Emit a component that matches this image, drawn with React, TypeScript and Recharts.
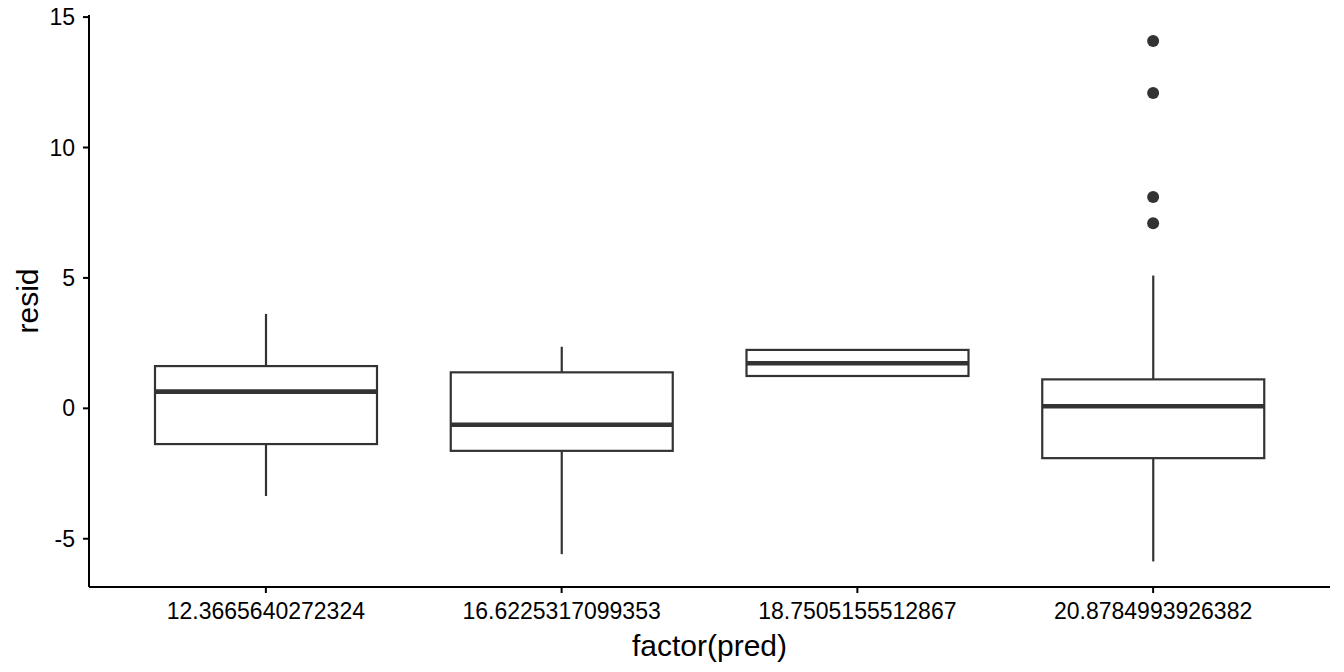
import { ComposedChart, Bar, Line, XAxis, YAxis } from 'recharts'

document.body.style.margin = '0'

const categories = ['12.3665640272324', '16.6225317099353', '18.7505155512867', '20.8784993926382']
const whiskerLow = [-3.36, -5.59, 1.24, -5.87]
const q1 = [-1.37, -1.63, 1.24, -1.91]
const median = [0.64, -0.63, 1.73, 0.08]
const q3 = [1.62, 1.38, 2.24, 1.11]
const whiskerHigh = [3.62, 2.36, 2.24, 5.09]
const outliers: number[][] = [[], [], [], [14.08, 12.09, 8.1, 7.1]]
const yTicks = [-5, 0, 5, 10, 15]

const OUTLIER_KEYS = ['o0', 'o1', 'o2', 'o3']

const data = categories.map((cat, i) => {
  const row: Record<string, any> = {
    cat,
    range: [whiskerLow[i], whiskerHigh[i]],
    low: whiskerLow[i],
    q1: q1[i],
    median: median[i],
    q3: q3[i],
    high: whiskerHigh[i],
  }
  OUTLIER_KEYS.forEach((k, j) => {
    row[k] = outliers[i][j] ?? null
  })
  return row
})

const INK = '#333333'
const FONT = '"Liberation Sans", Arial, Helvetica, sans-serif'
const TICK_STYLE = { fill: '#000', fontSize: 23, fontFamily: FONT }

// box drawn from the whisker range bar: map values through the bar's pixel span
function BoxShape(props: any) {
  const { x, y, width, height, payload } = props
  const lo = payload.low
  const hi = payload.high
  const top = Math.min(y, y + height)
  const h = Math.abs(height)
  const toPx = (v: number) => (hi === lo ? top : top + ((hi - v) / (hi - lo)) * h)
  const cx = x + width / 2
  const yQ3 = toPx(payload.q3)
  const yQ1 = toPx(payload.q1)
  const yMed = toPx(payload.median)
  return (
    <g>
      {payload.high > payload.q3 && (
        <line x1={cx} x2={cx} y1={toPx(hi)} y2={yQ3} stroke={INK} strokeWidth={2.2} />
      )}
      {payload.low < payload.q1 && (
        <line x1={cx} x2={cx} y1={yQ1} y2={toPx(lo)} stroke={INK} strokeWidth={2.2} />
      )}
      <rect x={x} y={yQ3} width={width} height={yQ1 - yQ3} fill="#fff" stroke={INK} strokeWidth={2.2} />
      <line x1={x} x2={x + width} y1={yMed} y2={yMed} stroke={INK} strokeWidth={4.6} />
    </g>
  )
}

export default function App() {
  return (
    <div style={{ width: 1344, height: 672, background: '#fff' }}>
      <ComposedChart width={1344} height={672} data={data} margin={{ top: 15, right: 14, bottom: 0, left: 0 }}>
        <XAxis
          dataKey="cat"
          type="category"
          height={85}
          padding={{ left: 29, right: 29 }}
          tick={TICK_STYLE}
          tickSize={6}
          tickMargin={10}
          axisLine={{ stroke: '#000', strokeWidth: 2 }}
          tickLine={{ stroke: '#000', strokeWidth: 2 }}
          interval={0}
          label={{
            content: ({ viewBox }: any) => (
              <text
                x={viewBox.x + viewBox.width / 2}
                y={viewBox.y + 69}
                textAnchor="middle"
                fill="#000"
                fontSize={30}
                fontFamily={FONT}
              >
                factor(pred)
              </text>
            ),
          }}
        />
        <YAxis
          type="number"
          domain={[-6.85, 15.08]}
          ticks={yTicks}
          allowDataOverflow
          width={89}
          tick={TICK_STYLE}
          tickSize={6}
          tickMargin={8}
          axisLine={{ stroke: '#000', strokeWidth: 2 }}
          tickLine={{ stroke: '#000', strokeWidth: 2 }}
          label={{
            content: ({ viewBox }: any) => {
              const lx = viewBox.x + 27
              const ly = viewBox.y + viewBox.height / 2
              return (
                <text
                  x={lx}
                  y={ly}
                  transform={`rotate(-90 ${lx} ${ly})`}
                  textAnchor="middle"
                  dominantBaseline="central"
                  fill="#000"
                  fontSize={30}
                  fontFamily={FONT}
                >
                  resid
                </text>
              )
            },
          }}
        />
        <Bar dataKey="range" barSize={222} shape={<BoxShape />} isAnimationActive={false} />
        {OUTLIER_KEYS.map((k) => (
          <Line
            key={k}
            dataKey={k}
            stroke="none"
            dot={{ r: 6, fill: INK, stroke: 'none' }}
            activeDot={false}
            connectNulls={false}
            isAnimationActive={false}
            legendType="none"
          />
        ))}
      </ComposedChart>
    </div>
  )
}
